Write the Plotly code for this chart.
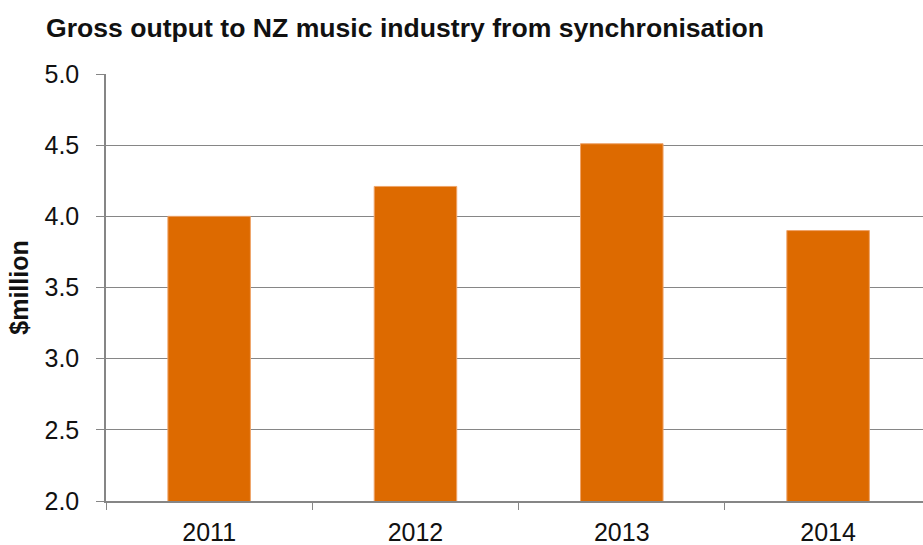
import plotly.graph_objects as go

# Gross output from synchronisation, $million
years = ["2011", "2012", "2013", "2014"]
output_millions = [4.00, 4.21, 4.51, 3.90]
y_ticks = [2.0, 2.5, 3.0, 3.5, 4.0, 4.5, 5.0]
y_tick_labels = ["2.0", "2.5", "3.0", "3.5", "4.0", "4.5", "5.0"]

BAR_COLOUR = "#DD6A00"
GRID_COLOUR = "#868686"
FONT = "Liberation Sans, Arial, sans-serif"

fig = go.Figure(
    go.Bar(
        x=years,
        y=output_millions,
        marker=dict(color=BAR_COLOUR, line=dict(color="#EFA46A", width=1)),
        hoverinfo="x+y",
    )
)

fig.update_layout(
    width=923,
    height=545,
    paper_bgcolor="white",
    plot_bgcolor="white",
    margin=dict(l=106, r=0, t=74, b=44),
    bargap=0.6,
    showlegend=False,
    font=dict(family=FONT, color="#111111", size=25),
    title=dict(
        text="<b>Gross output to NZ music industry from synchronisation</b>",
        x=46 / 923,
        xanchor="left",
        y=1 - 28 / 545,
        yanchor="middle",
        font=dict(family=FONT, size=26.6, color="#111111"),
    ),
)

fig.update_xaxes(
    range=[-0.5, 3.46],
    showgrid=False,
    showline=True,
    linecolor=GRID_COLOUR,
    linewidth=1.5,
    ticks="outside",
    tickson="boundaries",
    ticklen=7,
    tickcolor=GRID_COLOUR,
    tickwidth=1.3,
    ticklabelstandoff=8,
    tickfont=dict(size=25),
    fixedrange=True,
)

fig.update_yaxes(
    range=[2.0, 5.0],
    tickvals=y_ticks,
    ticktext=y_tick_labels,
    showgrid=True,
    gridcolor=GRID_COLOUR,
    gridwidth=1.3,
    zeroline=False,
    showline=True,
    linecolor=GRID_COLOUR,
    linewidth=1.5,
    ticks="outside",
    ticklen=8,
    tickcolor=GRID_COLOUR,
    tickwidth=1.3,
    ticklabelstandoff=12,
    tickfont=dict(size=25),
    title=dict(
        text="<b>$million</b>",
        font=dict(size=25, family=FONT),
        standoff=9,
    ),
    fixedrange=True,
)

fig.write_html("out.html")
